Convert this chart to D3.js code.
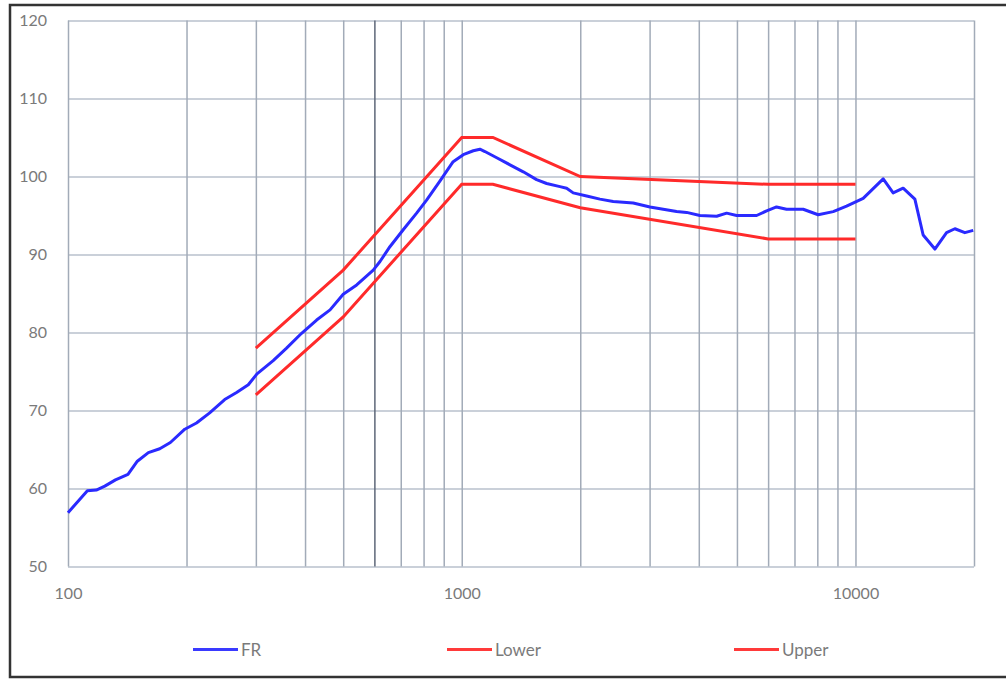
<!DOCTYPE html>
<html>
<head>
<meta charset="utf-8">
<script src="https://cdn.jsdelivr.net/npm/d3@7"></script>
<style>
  body { margin: 0; background: #fff; }
  svg { display: block; }
  .tick text { font-family: Lato, "Open Sans", sans-serif; font-size: 16px; fill: #7a7a7a; }
  .legend text { font-family: Lato, "Open Sans", sans-serif; font-size: 17px; fill: #7a7a7a; }
</style>
</head>
<body>
<svg id="chart"></svg>
<script>
// Frequency response (blue)
var frFreq = [100, 112, 118, 124, 132, 142, 150, 160, 171, 182, 198, 212, 229, 250, 268, 287, 302,
              332, 359, 392, 428, 463, 500, 541, 596, 620, 657, 711, 768, 815, 880, 951, 1009,
              1070, 1112, 1145, 1227, 1326, 1433, 1549, 1643, 1776, 1847, 1919, 2076, 2244, 2425,
              2726, 3006, 3249, 3513, 3725, 4026, 4440, 4707, 4991, 5609, 5948, 6303, 6683, 7365,
              8041, 8779, 9493, 10460, 11760, 12465, 13215, 14153, 14856, 15911, 17035, 17883, 18960, 19910];
var frDb = [56.9, 59.7, 59.8, 60.3, 61.1, 61.8, 63.5, 64.6, 65.1, 65.9, 67.6, 68.4, 69.7, 71.4, 72.3, 73.3, 74.7,
            76.4, 78.0, 79.9, 81.6, 82.9, 84.9, 86.1, 88.0, 89.1, 91.0, 93.2, 95.3, 97.0, 99.4, 101.9, 102.8,
            103.3, 103.5, 103.2, 102.4, 101.5, 100.6, 99.6, 99.1, 98.7, 98.5, 97.9, 97.5, 97.1, 96.8,
            96.6, 96.1, 95.8, 95.5, 95.4, 95.0, 94.9, 95.3, 95.0, 95.0, 95.6, 96.1, 95.8, 95.8,
            95.1, 95.5, 96.2, 97.2, 99.7, 97.9, 98.5, 97.1, 92.5, 90.7, 92.8, 93.3, 92.8, 93.1];

// Tolerance limits (red)
var lowerFreq = [300, 500, 1000, 1200, 2000, 6000, 10000];
var lowerDb = [72, 82, 99, 99, 96, 92, 92];
var upperFreq = [300, 500, 1000, 1200, 2000, 6000, 10000];
var upperDb = [78, 88, 105, 105, 100, 99, 99];

var yTicks = [50, 60, 70, 80, 90, 100, 110, 120];
var xGrid = [100, 200, 300, 400, 500, 600, 700, 800, 900, 1000, 2000, 3000, 4000, 5000,
             6000, 7000, 8000, 9000, 10000, 20000];
var xLabels = [100, 1000, 10000];
var seriesNames = ["FR", "Lower", "Upper"];

var width = 1006, height = 681;
var plotLeft = 68, plotRight = 974, plotTop = 20.5, plotBottom = 566.5;

var svg = d3.select("#chart").attr("width", width).attr("height", height);

// outer frame
svg.append("rect")
    .attr("x", 10).attr("y", 5)
    .attr("width", 1020).attr("height", 672)
    .attr("fill", "none")
    .attr("stroke", "#333")
    .attr("stroke-width", 2.5);

var x = d3.scaleLog().domain([100, 20000]).range([plotLeft, plotRight]);
var y = d3.scaleLinear().domain([50, 120]).range([plotBottom, plotTop]);

// horizontal grid + y labels
var yAxis = svg.append("g")
    .attr("transform", "translate(" + plotLeft + ",0)")
    .call(d3.axisLeft(y).tickValues(yTicks).tickSize(-(plotRight - plotLeft)).tickPadding(21));
yAxis.select(".domain").remove();
yAxis.selectAll(".tick line").attr("stroke", "#b9c1cc").attr("stroke-width", 1.5);

// vertical grid
var xAxis = svg.append("g")
    .attr("transform", "translate(0," + plotBottom + ")")
    .call(d3.axisBottom(x).tickValues(xGrid).tickSize(-(plotBottom - plotTop)).tickPadding(24)
        .tickFormat(function(d) { return xLabels.indexOf(d) >= 0 ? d : ""; }));
xAxis.select(".domain").remove();
xAxis.selectAll(".tick line")
    .attr("stroke", function(d) { return d === 600 ? "#5d6778" : "#a2abb8"; })
    .attr("stroke-width", 1.5);
xAxis.selectAll(".tick text").attr("dy", "0.5em");

var line = d3.line()
    .x(function(d) { return x(d[0]); })
    .y(function(d) { return y(d[1]); });

function pairs(fs, vs) { return fs.map(function(f, i) { return [f, vs[i]]; }); }

svg.append("path")
    .datum(pairs(lowerFreq, lowerDb))
    .attr("d", line).attr("fill", "none")
    .attr("stroke", "#ff2a2a").attr("stroke-width", 3);

svg.append("path")
    .datum(pairs(upperFreq, upperDb))
    .attr("d", line).attr("fill", "none")
    .attr("stroke", "#ff2a2a").attr("stroke-width", 3);

svg.append("path")
    .datum(pairs(frFreq, frDb))
    .attr("d", line).attr("fill", "none")
    .attr("stroke", "#2a2aff").attr("stroke-width", 3)
    .attr("stroke-linejoin", "round");

// legend
var legendX = [193, 447, 734];
var legendColors = ["#3a3aff", "#ff3a3a", "#ff3a3a"];
var legend = svg.append("g").attr("class", "legend");
seriesNames.forEach(function(name, i) {
    legend.append("line")
        .attr("x1", legendX[i]).attr("x2", legendX[i] + 45)
        .attr("y1", 649.5).attr("y2", 649.5)
        .attr("stroke", legendColors[i]).attr("stroke-width", 3);
    legend.append("text")
        .attr("x", legendX[i] + 48).attr("y", 650)
        .attr("dy", "0.35em")
        .text(name);
});
</script>
</body>
</html>
